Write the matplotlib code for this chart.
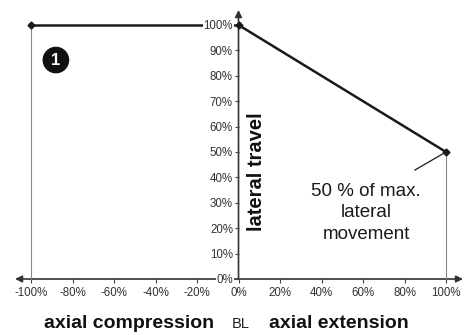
import matplotlib
matplotlib.use("Agg")
import matplotlib.pyplot as plt
from matplotlib import font_manager

# ---- data ----
x_ticks = [-100, -80, -60, -40, -20, 0, 20, 40, 60, 80, 100]
x_tick_labels = ["-100%", "-80%", "-60%", "-40%", "-20%", "0%", "20%", "40%", "60%", "80%", "100%"]
y_ticks = [0, 10, 20, 30, 40, 50, 60, 70, 80, 90, 100]
y_tick_labels = ["0%", "10%", "20%", "30%", "40%", "50%", "60%", "70%", "80%", "90%", "100%"]

compression_x = [-100, 0]
compression_y = [100, 100]
extension_x = [0, 100]
extension_y = [100, 50]

names = {f.name for f in font_manager.fontManager.ttflist}
narrow = "Liberation Sans Narrow" if "Liberation Sans Narrow" in names else "Liberation Sans"
tick_size = 9 if narrow == "Liberation Sans Narrow" else 8.3

fig = plt.figure(figsize=(4.69, 3.35), dpi=100)
ax = fig.add_axes([0, 0, 1, 1])
ax.set_xlim(-114.94, 111.08)
ax.set_ylim(-22.05, 109.84)
ax.set_axisbelow(False)

for s in ["top", "right"]:
    ax.spines[s].set_visible(False)
ax.spines["left"].set_position(("data", 0))
ax.spines["bottom"].set_position(("data", 0))
ax.spines["left"].set_color("none")
ax.spines["bottom"].set_color("none")

ax.set_xticks(x_ticks)
ax.set_xticklabels(x_tick_labels)
ax.set_yticks(y_ticks)
ax.set_yticklabels(y_tick_labels)
ax.tick_params(axis="x", direction="out", length=3, width=0.8, color="#444", pad=2.5,
               labelsize=tick_size, labelcolor="#333")
ax.tick_params(axis="y", direction="out", length=3, width=0.8, color="#444", pad=1,
               labelsize=tick_size, labelcolor="#333")
for lab in ax.get_xticklabels() + ax.get_yticklabels():
    lab.set_fontfamily(narrow)
for lab in ax.get_yticklabels():
    lab.set_bbox(dict(facecolor="white", edgecolor="none", pad=0.5))

# axis lines with arrows
ax.annotate("", xy=(-107.7, 0), xytext=(108.2, 0),
            arrowprops=dict(arrowstyle="<|-|>", color="#333", lw=1.2,
                            mutation_scale=10, shrinkA=0, shrinkB=0), zorder=1)
ax.annotate("", xy=(0, 105.9), xytext=(0, 0),
            arrowprops=dict(arrowstyle="-|>", color="#333", lw=1.2,
                            mutation_scale=10, shrinkA=0, shrinkB=0), zorder=1)

# drop lines
ax.plot([compression_x[0], compression_x[0]], [0, compression_y[0]], color="#888", lw=0.8, zorder=1)
ax.plot([extension_x[-1], extension_x[-1]], [0, extension_y[-1]], color="#888", lw=0.8, zorder=1)

# data lines
ax.plot(compression_x, compression_y, color="#1a1a1a", lw=1.8, zorder=1.2)
ax.plot([compression_x[0]], [compression_y[0]], "D", color="#1a1a1a", ms=3.5, zorder=3)
ax.plot(extension_x, extension_y, color="#1a1a1a", lw=1.8, marker="D", ms=3.5, zorder=3)

# annotation
ax.plot([extension_x[-1], 85], [extension_y[-1], 42.9], color="#1a1a1a", lw=0.9, zorder=3)
ax.text(61.5, 26.0, "50 % of max.\nlateral\nmovement", ha="center", va="center",
        fontsize=13.5, family="Liberation Sans", color="#1a1a1a", linespacing=1.32)

ax.text(8.9, 42.1, "lateral travel", rotation=90, ha="center", va="center",
        fontsize=14.5, fontweight="bold", family="Liberation Sans", color="#111")

ax.text(-88, 86.2, "1", ha="center", va="center", fontsize=12, fontweight="bold",
        family="Liberation Sans", color="white",
        bbox=dict(boxstyle="circle,pad=0.35", facecolor="#111", edgecolor="none"))

ax.text(-52.8, -17.6, "axial compression", ha="center", va="center", fontsize=14,
        fontweight="bold", family="Liberation Sans", color="#111")
ax.text(1.2, -17.6, "BL", ha="center", va="center", fontsize=10.5,
        family="Liberation Sans", color="#222")
ax.text(48.4, -17.6, "axial extension", ha="center", va="center", fontsize=14,
        fontweight="bold", family="Liberation Sans", color="#111")

fig.savefig("out.png", dpi=100, facecolor="white")
